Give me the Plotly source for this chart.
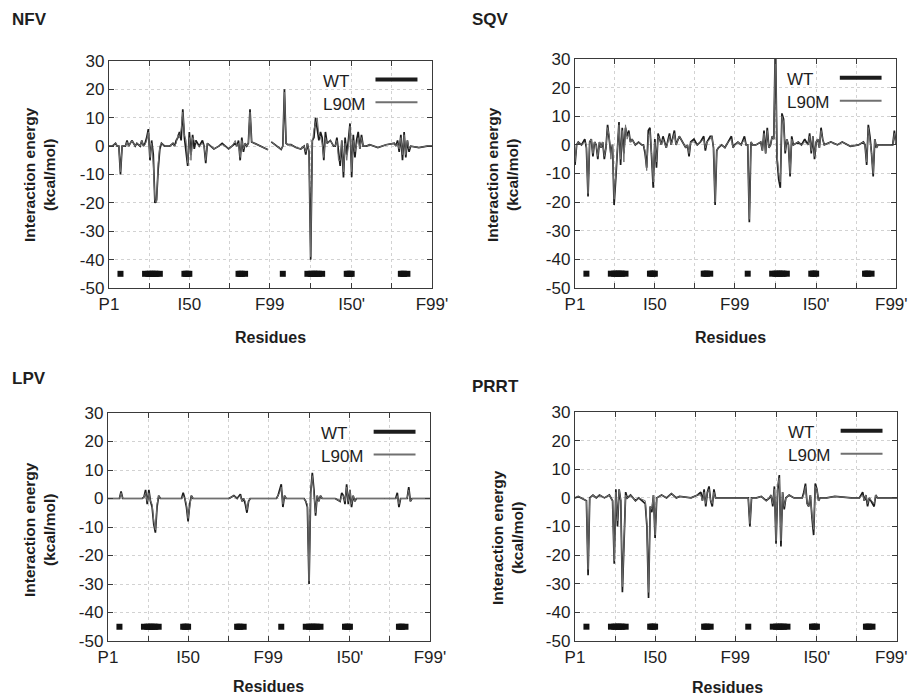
import plotly.graph_objects as go

# ---------------- data (residue index 1..198, dimer numbering) ----------------
tick_pos = [1, 25.5, 50, 74.5, 99, 124, 149, 173.5, 198]
tick_txt = ["P1", "", "I50", "", "F99", "", "I50'", "", "F99'"]

site_res = [8, 23, 25, 26, 27, 28, 29, 30, 32, 47, 48, 49, 50, 80, 81, 82, 84,
            107, 122, 124, 125, 126, 127, 128, 129, 131, 146, 147, 148, 149, 179, 180, 181, 183]
site_val = [-45] * len(site_res)

nfv_res = [1, 3, 5, 6, 7, 8, 9, 11, 12, 13, 15, 17, 18, 20, 21, 22, 23, 24, 25, 26, 27, 28, 29, 30, 31, 32, 33, 35,
           38, 40, 41, 42, 43, 44, 45, 46, 47, 48, 49, 50, 51, 52, 53, 54, 56, 58, 59, 60, 61, 63, 65, 68, 70, 72,
           74, 76, 78, 79, 80, 81, 82, 83, 84, 85, 86, 87, 88, 89, 91, 93, 95, 97, 98, 99, 100, 102, 104, 106, 107,
           108, 109, 110, 112, 115, 118, 120, 121, 122, 123, 124, 125, 126, 127, 128, 129, 130, 131, 132, 133, 134,
           136, 138, 139, 140, 141, 142, 143, 144, 145, 146, 147, 148, 149, 150, 151, 152, 153, 154, 155, 156, 158,
           160, 165, 170, 175, 176, 177, 178, 179, 180, 181, 182, 183, 184, 185, 190, 195, 198]
nfv_wt = [0, 0, 1, 0, 0, -10, 0, 0, 2, 0, 2, 0, 1, 0, 2, 0, 1, 3, 6, -5, 2, -3, -20, -19, -8, -1, 1, 0,
          0, 1, 0, 2, 3, 5, 2, 13, 3, -2, -7, 5, -3, 4, -1, 2, 0, 2, 0, -6, 1, 0, -1, 0, 1, 0,
          -1, 0, 1, 0, 2, -5, 3, -2, 1, 0, 1, 13, 1.5, 1.2, 0.6, 0, -0.6, -1, -1.3, None, 1.5, 0.5, -0.5, -1.2, 0,
          20, 1, 0.5, 0.5, -0.5, -1, 0, -3, 1, -2, -40, 2, 3, 10, 6, 2, 5, 3, -5, 5, 1,
          2, 0, 0, 3, -3, -7, 2, -11, 3, -3, 2, 8, -11, 4, -4, 2, 5, -1, 4, 0, 0,
          0.5, -0.5, 0.5, 1, 0, 2, -2, 4, -5, 5, -4, 2, -2, 0, -0.5, 0, 0]
nfv_l90m = [0, 0, 1, 0, 0, -9, 0, 0, 1.5, 0, 2, 0, 1, 0, 2, 0, 0.5, 2, 5, -4, 1, -6, -19, -20, -6, 0, 1, 0,
            0, 1, 0, 1, 4, 3, 6, 12, 4, 2, -6, 3, -5, 3, 2, 1, 0, 1, 0, -5, 1, 0, -1, 0, 0.5, 0,
            -1, 0, 2, 0, 1, -4, 2, -1, 1, 0, 1, 12, 1.5, 1.2, 0.6, 0, -0.6, -1, -1.3, None, 1.5, 0.5, -0.5, -1.2, 0,
            19, 1, 0.5, 0.5, -0.5, -1, 0, -2, 1, -2, -39, 1, 6, 8, 10, 4, 3, 1, -4, 3, 1,
            2, 0, 0, 2, -5, -5, 2, -9, 1, -5, 0, 7, -9, 2, -2, 1, 3, -1, 3, 0, 0,
            0.5, -0.5, 0.5, 1, 0, 1, -1, 3, -3, 4, -3, 2, -1, 0, -0.5, 0, 0]

sqv_res = [1, 2, 3, 5, 7, 8, 9, 10, 11, 12, 13, 14, 15, 16, 17, 18, 19, 20, 21, 22, 23, 24, 25, 26, 27, 28, 29, 30,
           31, 32, 33, 34, 35, 36, 38, 40, 42, 43, 44, 45, 46, 47, 48, 49, 50, 51, 52, 53, 54, 55, 57, 59, 60, 62,
           63, 65, 67, 69, 70, 71, 72, 74, 76, 78, 80, 81, 82, 84, 85, 86, 87, 88, 89, 91, 93, 95, 97, 98, 99, 101,
           103, 105, 106, 107, 108, 109, 110, 112, 115, 116, 117, 118, 119, 120, 121, 122, 123, 124, 125, 126, 127,
           128, 129, 130, 131, 132, 133, 134, 135, 138, 140, 142, 144, 145, 146, 147, 148, 149, 150, 151, 152, 153,
           154, 158, 162, 165, 170, 175, 178, 179, 180, 181, 182, 183, 184, 185, 186, 187, 190, 196, 197, 198]
sqv_wt = [-7, 0, 1, 0, 2, -1, -18, 1, 2, -4, 1, 0, -5, 1, -1, 1, -5, -1, 7, 2, -3, 0, -21, -12, -2, 8, -7, 6,
          -3, 6, 3, 5, 1, 2, 0, 1, 0, 0, -3, -8, 5, 6, -4, -15, 2, -8, 4, 2, 0, 3, -1, 4, 0, 5,
          0, 3, 1, -1, 0, -4, 1, 2, 0, 1, 3, -2, 1, 3, 3, -1, -21, -2, -1, 0, -1, 1, 3, -1, 0, 1,
          0, 3, 0, 0, -27, 1, 0, 0, 1, -2, 5, -3, 6, -1, 0, 3, 2, 38, -5, -12, -15,
          11, 9, -3, 2, 0, -11, 3, 0, 1, 0, 2, 0, 4, -3, 3, -5, 1, 2, -1, 6, 2,
          0, 1, 0, 1, -0.5, 0, 1, 0, -7, 7, 3, -3, -11, 2, -1, 0, 0, 0, 5, 0]
sqv_l90m = [-6, 0, 1, 0, 1, 0, -17, 1, 2, -3, 1, 0, -4, 1, -1, 1, -4, -1, 6, 3, -5, 0, -19, -11, -2, 7, -5, 5,
            -6, 7, 2, 4, 1, 2, 0, 1, 0, 0, -2, -9, 3, 5, -3, -13, 1, -6, 3, 2, 0, 2, -1, 3, 0, 4,
            0, 3, 1, -1, 0, -3, 1, 1, 0, 1, 2, -1, 1, 2, 3, -1, -20, -2, -1, 0, -1, 1, 2, -1, 0, 1,
            0, 2, 0, 0, -26, 1, 0, 0, 1, -2, 4, -3, 5, -1, 0, 3, 2, 36, -3, -10, -13,
            10, 8, -2, 2, 0, -10, 2, 0, 1, 0, 1, 0, 3, -2, 3, -4, 1, 2, -1, 5, 2,
            0, 1, 0, 1, -0.5, 0, 1, 0, -6, 6, 2, -3, -10, 2, -1, 0, 0, 0, 4, 0]

lpv_res = [1, 8, 9, 10, 22, 23, 24, 25, 26, 27, 28, 29, 30, 31, 32, 33, 46, 47, 48, 49, 50, 51, 52, 53, 75, 78, 80,
           82, 83, 84, 85, 86, 87, 88, 100, 104, 105, 106, 107, 108, 109, 110, 121, 122, 123, 124, 125, 126, 127,
           128, 129, 130, 131, 132, 140, 143, 144, 145, 146, 147, 148, 149, 150, 151, 152, 153, 170, 177, 178, 179,
           180, 182, 184, 185, 186, 187, 198]
lpv_wt = [0, 0, 2.5, 0, 0, 0.5, 3, -2, 3, -1, -3, -9, -12, -3, 1, 0, 0, 2, 0, -3, -8, -2, 1, 0, 0, 1, 0,
          1.5, -1, 0, -2, -5, -1, 0, 0, 0, 1, 3, 5, -3, 1, 0, 0, -1, -3, -30, 2, 9, 3,
          -6, 1, -1, 1, 0, 0, -1, 2, 1, -2, 5, -2, 3, -3, 1, -1, 0, 0, 0, 2, -3,
          0, 0, 0, 4, -1, 0, 0]
lpv_l90m = [0, 0, 2, 0, 0, 0.5, 2, -1, 2, -1, -2, -8, -11, -2, 1, 0, 0, 1, 0, -2, -7, -2, 1, 0, 0, 1, 0,
            1, -1, 0, -1, -4, -1, 0, 0, 0, 1, 2, 4, -2, 1, 0, 0, -1, -2, -29, 2, 8, 2,
            -5, 1, -1, 1, 0, 0, -1, 1, 1, -1, 4, -1, 3, -2, 1, -1, 0, 0, 0, 1, -2,
            0, 0, 0, 3, -1, 0, 0]

prrt_res = [1, 3, 8, 9, 10, 12, 14, 16, 19, 22, 24, 25, 26, 27, 28, 29, 30, 31, 32, 33, 35, 38, 40, 44, 45, 46,
            47, 48, 49, 50, 51, 54, 57, 60, 63, 65, 72, 76, 78, 79, 80, 81, 82, 83, 84, 85, 86, 87, 90, 99, 105,
            107, 108, 109, 112, 115, 118, 120, 121, 122, 123, 124, 125, 126, 127, 128, 129, 130, 132, 135, 140,
            141, 142, 143, 144, 145, 146, 147, 148, 149, 150, 151, 155, 160, 170, 175, 177, 178, 179, 180, 181,
            184, 185, 186, 198]
prrt_wt = [0, 0.5, -1, -27, 0, 1, 0, 1, 0, 1, -1, -23, 3, -10, 3, -1, -33, -15, 2, 0, 1, -1, 0, -2, -10, -35,
           -3, -5, 1, -14, 0, 1, 0, 1.5, 0, 0.5, 0, 1, 2, -1, 3, -3, 2, 4, -1, -3, 3, 0, 0, 0, 0,
           0, -10, 0, 0, 0.5, -1, 0, 1, -3, 4, -16, 3, 8, -17, 2, -4, 0, 1, 0, 0,
           2, 5, -2, -3, 1, -7, -13, 5, 3, -1, 0, 0, 0.5, 0, 0, 2, -1, 1, -3, 0,
           -3, 1, 0, 0]
prrt_l90m = [0, 0.5, -1, -25, 0, 1, 0, 1, 0, 1, -1, -22, 2, -8, 3, -1, -31, -13, 1, 0, 1, -1, 0, -1, -9, -33,
             -3, -4, 1, -13, 0, 1, 0, 1.5, 0, 0.5, 0, 1, 1, -1, 2, -2, 2, 3, -1, -2, 2, 0, 0, 0, 0,
             0, -9, 0, 0, 0.5, -1, 0, 1, -2, 3, -15, 4, 7, -15, 2, -3, 0, 1, 0, 0,
             1, 4, -2, -3, 1, -6, -11, 4, 3, -1, 0, 0, 0.5, 0, 0, 1, -1, 1, -2, 0,
             -2, 1, 0, 0]

# ---------------- layout geometry ----------------
W, H = 911, 697
# (name, res, wt, l90m, x0, x1, ytop, ybot, title, ylabel, xlabel, last-label-inside)
panels = [
    ("NFV", nfv_res, nfv_wt, nfv_l90m, 109, 432, 61, 288, (10, 20), (39, 175), (270, 338), False),
    ("SQV", sqv_res, sqv_wt, sqv_l90m, 575, 896, 59, 288, (470, 20), (502, 175), (730, 338), True),
    ("LPV", lpv_res, lpv_wt, lpv_l90m, 108, 430, 413, 641, (10, 379), (39, 530), (268, 686), False),
    ("PRRT", prrt_res, prrt_wt, prrt_l90m, 575, 897, 412, 641, (470, 386), (507, 537), (727, 687), True),
]

FONT = "Liberation Sans, Arial, Helvetica, sans-serif"
TXT = "#1e1e1e"
WT_C = "#1c1c1c"
MUT_C = "#707070"

fig = go.Figure()
layout = dict(
    width=W, height=H, margin=dict(l=0, r=0, t=0, b=0, autoexpand=False), autosize=False,
    paper_bgcolor="white", plot_bgcolor="white", showlegend=False,
    font=dict(family=FONT, color=TXT),
)
annotations = []
shapes = []

for i, (name, res, wt, mut, x0, x1, yt, yb, tpos, ylpos, xlpos, edge) in enumerate(panels, start=1):
    xs = "" if i == 1 else str(i)
    xa, ya = "x" + xs, "y" + xs
    fig.add_trace(go.Scatter(x=res, y=wt, mode="lines", xaxis=xa, yaxis=ya, name="WT",
                             line=dict(color=WT_C, width=1.7), connectgaps=False))
    fig.add_trace(go.Scatter(x=res, y=mut, mode="lines", xaxis=xa, yaxis=ya, name="L90M",
                             line=dict(color=MUT_C, width=1.0), connectgaps=False))
    fig.add_trace(go.Scatter(x=site_res, y=site_val, mode="markers", xaxis=xa, yaxis=ya,
                             marker=dict(symbol="square", size=6, color="#111111", line=dict(width=0))))

    axis_common = dict(
        showline=True, linecolor="#3a3a3a", linewidth=1.3, mirror="ticks",
        ticks="inside", ticklen=5, tickcolor="#3a3a3a", tickwidth=1.2,
        showgrid=True, gridcolor="#d2d2d2", griddash="dot", gridwidth=1,
        zeroline=False, automargin=False, tickfont=dict(size=17, color=TXT, family=FONT),
    )
    txt = list(tick_txt)
    if edge:
        # last label would overflow the page; draw it shifted inside like the reference
        annotations.append(dict(text=txt[-1], xref="paper", yref="paper",
                                x=910 / W, y=1 - (yb + 16) / H, xanchor="right", yanchor="middle",
                                showarrow=False, font=dict(size=17, family=FONT, color=TXT)))
        txt[-1] = ""
    layout["xaxis" + xs] = dict(
        axis_common, domain=[x0 / W, x1 / W], anchor=ya, range=[1, 198],
        tickmode="array", tickvals=tick_pos, ticktext=txt,
    )
    layout["yaxis" + xs] = dict(
        axis_common, domain=[1 - yb / H, 1 - yt / H], anchor=xa, range=[-50, 30],
        tickmode="array", tickvals=[-50, -40, -30, -20, -10, 0, 10, 20, 30],
        ticktext=["-50", "-40", "-30", "-20", "-10", "0", "10", "20", "30"],
    )

    annotations.append(dict(text="<b>%s</b>" % name, xref="paper", yref="paper",
                            x=tpos[0] / W, y=1 - tpos[1] / H, xanchor="left", yanchor="middle",
                            showarrow=False, font=dict(size=17, family=FONT, color=TXT)))
    annotations.append(dict(text="<b>Interaction energy</b><br><b>(kcal/mol)</b>", xref="paper", yref="paper",
                            x=ylpos[0] / W, y=1 - ylpos[1] / H, xanchor="center", yanchor="middle",
                            textangle=-90, showarrow=False,
                            font=dict(size=15.5, family=FONT, color=TXT)))
    annotations.append(dict(text="<b>Residues</b>", xref="paper", yref="paper",
                            x=xlpos[0] / W, y=1 - xlpos[1] / H, xanchor="center", yanchor="middle",
                            showarrow=False, font=dict(size=16, family=FONT, color=TXT)))
    dx, dy = xa + " domain", ya + " domain"
    for lab, yk, col, wdt in (("WT", 0.91, WT_C, 4), ("L90M", 0.81, MUT_C, 2)):
        annotations.append(dict(text=lab, xref=dx, yref=dy, x=0.655, y=yk,
                                xanchor="left", yanchor="middle", showarrow=False,
                                font=dict(size=17, family=FONT, color=TXT)))
        shapes.append(dict(type="line", xref=dx, yref=dy, x0=0.825, x1=0.955, y0=yk + 0.008, y1=yk + 0.008,
                           line=dict(color=col, width=wdt)))

layout["annotations"] = annotations
layout["shapes"] = shapes
fig.update_layout(**layout)
fig.write_html(
    "out.html",
    config={"displayModeBar": False},
    post_script="document.body.style.margin='0';document.body.style.padding='0';"
                "document.body.style.overflow='hidden';document.documentElement.style.overflow='hidden';",
)
